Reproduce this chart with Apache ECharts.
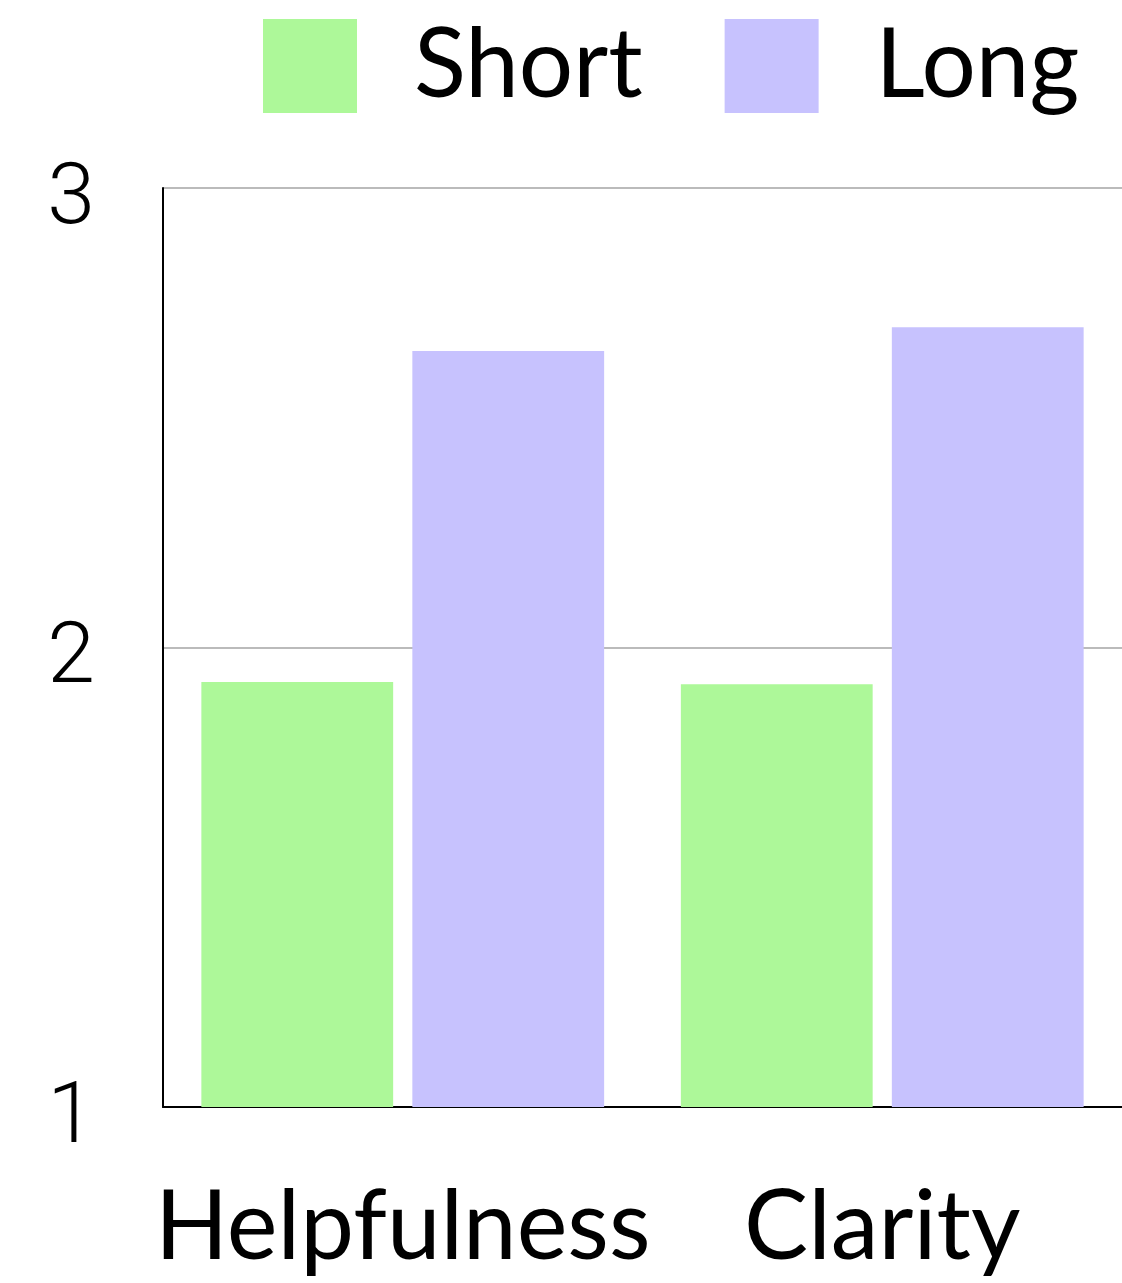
<!DOCTYPE html>
<html>
<head>
<meta charset="utf-8">
<script src="https://cdn.jsdelivr.net/npm/echarts@6/dist/echarts.min.js"></script>
<style>
  html, body { margin: 0; padding: 0; background: #fff; }
  #chart { width: 1122px; height: 1283px; }
</style>
</head>
<body>
<div id="chart"></div>
<script>
// 数据
const categories = ['Helpfulness', 'Clarity']
const seriesNames = ['Short', 'Long']
const shortValues = [1.925, 1.92]
const longValues = [2.645, 2.697]
const yTicks = [1, 3, 1] // min, max, interval

const colors = ['#adf899', '#c7c2fe']

const chart = echarts.init(document.getElementById('chart'))
chart.setOption({
  animation: false,
  color: colors,
  legend: {
    left: 258,
    top: 13,
    itemWidth: 94,
    itemHeight: 94,
    itemGap: 82,
    icon: 'rect',
    data: seriesNames,
    textStyle: {
      fontFamily: 'Lato',
      fontSize: 96,
      color: '#000',
      padding: [0, 0, 0, 52]
    }
  },
  grid: { left: 163, right: 0, top: 188, bottom: 176 },
  xAxis: {
    type: 'category',
    data: categories,
    axisLine: { lineStyle: { color: '#000', width: 2 } },
    axisTick: { show: false },
    axisLabel: {
      interval: 0,
      hideOverlap: false,
      fontFamily: 'Lato',
      fontSize: 96,
      color: '#000',
      margin: 73
    }
  },
  yAxis: {
    type: 'value',
    min: yTicks[0],
    max: yTicks[1],
    interval: yTicks[2],
    axisLine: { show: true, lineStyle: { color: '#000', width: 2 } },
    axisTick: { show: false },
    splitLine: { lineStyle: { color: '#bbbbbb', width: 2 } },
    axisLabel: {
      fontFamily: 'Roboto',
      fontWeight: 300,
      fontSize: 86,
      color: '#000',
      margin: 68,
      verticalAlign: 'top',
      lineHeight: 26
    }
  },
  series: [
    { name: seriesNames[0], type: 'bar', data: shortValues, barWidth: '40%', barGap: '10%' },
    { name: seriesNames[1], type: 'bar', data: longValues, barWidth: '40%', barGap: '10%' }
  ]
})
</script>
</body>
</html>
